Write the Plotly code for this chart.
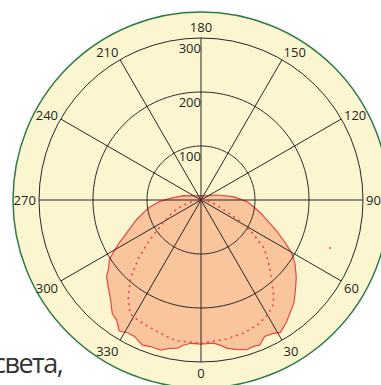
import numpy as np
import plotly.graph_objects as go

# light distribution curve (solid, filled), candela values
SOLID_THETA = [0, 5, 7.5, 10, 13, 17, 20, 22, 25, 28.5, 31, 35, 38, 42, 46, 51, 56, 60, 64, 68,
               72, 77, 82, 88, 96, 108, 130, 180, 230, 256, 267, 272, 277.5, 282, 287, 294, 298, 301, 303, 307,
               309, 313, 318, 322, 325, 328, 331, 334, 338, 341, 345, 348, 351, 353, 356, 360]
SOLID_R = [267, 266, 271, 279, 284, 290, 288, 290, 279, 281, 286, 276, 267, 257, 243, 227, 210, 193, 170, 150,
           132, 115, 100, 85, 60, 30, 12, 8, 12, 34, 57, 76, 95, 108, 125, 151, 173, 190, 202, 215,
           225, 235, 250, 267, 272, 286, 281, 281, 290, 287, 288, 281, 278, 271, 266, 267]

# second curve (dotted)
DOTTED_THETA = [0, 10, 18, 25, 30, 34, 37, 41, 44, 47, 50, 53, 57, 61, 65, 72, 79, 90,
                270, 280, 286, 293, 300, 304, 308, 313, 318, 323, 328, 333, 343, 350, 360]
DOTTED_R = [265, 262, 259, 253, 246, 237, 224, 200, 185, 171, 158, 144, 115, 85, 55, 30, 17, 0,
            0, 17, 34, 56, 78, 95, 121, 158, 195, 224, 248, 252, 258, 265, 265]

STRAY_THETA = [69.6]
STRAY_R = [255]

ANGLE_TICKS = list(range(0, 360, 30))
RADIAL_TICKS = [100, 200, 300]

CREAM = "#fbf6cf"
RED = "#e9453d"
GRID = "#2a2626"
LABEL_FONT = dict(family="Open Sans", size=13, color="#231f20")

fig = go.Figure()

fig.add_trace(go.Scatterpolar(
    r=SOLID_R, theta=SOLID_THETA, mode="lines", fill="toself",
    fillcolor="#f8c59c", line=dict(color=RED, width=1.2), hoverinfo="skip"))

# grid drawn as traces so it sits on top of the filled area
spoke_r, spoke_t = [], []
for a in ANGLE_TICKS:
    spoke_r += [0, RADIAL_TICKS[-1], None]
    spoke_t += [a, a, None]
fig.add_trace(go.Scatterpolar(r=spoke_r, theta=spoke_t, mode="lines",
                              line=dict(color=GRID, width=1), hoverinfo="skip"))
ring_t = np.linspace(0, 360, 241)
for t in RADIAL_TICKS[:-1]:
    fig.add_trace(go.Scatterpolar(r=[t] * len(ring_t), theta=ring_t, mode="lines",
                                  line=dict(color=GRID, width=1), hoverinfo="skip"))

fig.add_trace(go.Scatterpolar(
    r=DOTTED_R, theta=DOTTED_THETA, mode="lines",
    line=dict(color=RED, width=1.6, dash="2px,4px"), hoverinfo="skip"))

fig.add_trace(go.Scatterpolar(r=STRAY_R, theta=STRAY_THETA, mode="markers",
                              marker=dict(color=RED, size=2), hoverinfo="skip"))

fig.add_trace(go.Scatterpolar(
    r=[t - 21 for t in RADIAL_TICKS], theta=[180] * len(RADIAL_TICKS),
    text=[str(t) for t in RADIAL_TICKS], mode="text", textposition="middle left",
    textfont=LABEL_FONT, hoverinfo="skip"))

fig.add_shape(type="circle", xref="paper", yref="paper",
              x0=13 / 381, x1=389 / 381, y0=-3 / 385, y1=373 / 385,
              fillcolor=CREAM, line=dict(color="#2f7a4a", width=1.5), layer="below")

fig.add_annotation(text="<span style='letter-spacing:-1.5px'>света,</span>",
                   xref="paper", yref="paper", x=64 / 381, y=2 / 385,
                   xanchor="right", yanchor="bottom", showarrow=False,
                   font=dict(family="Open Sans", size=27, color="#333333"))

fig.update_layout(
    width=381, height=385, margin=dict(l=0, r=0, t=0, b=0),
    paper_bgcolor="white", showlegend=False,
    polar=dict(
        domain=dict(x=[39 / 381, 363 / 381], y=[23 / 385, 347 / 385]),
        bgcolor=CREAM,
        radialaxis=dict(range=[0, 300], showticklabels=False, showgrid=False,
                        showline=False, ticks=""),
        angularaxis=dict(rotation=270, direction="counterclockwise",
                         tickmode="array", tickvals=ANGLE_TICKS,
                         ticktext=[str(a) for a in ANGLE_TICKS],
                         showgrid=False, showline=True, linecolor=GRID, linewidth=1,
                         ticks="", tickfont=LABEL_FONT),
    ),
)

fig.write_html("out.html", config={"displayModeBar": False},
               post_script="document.body.style.margin='0';")
